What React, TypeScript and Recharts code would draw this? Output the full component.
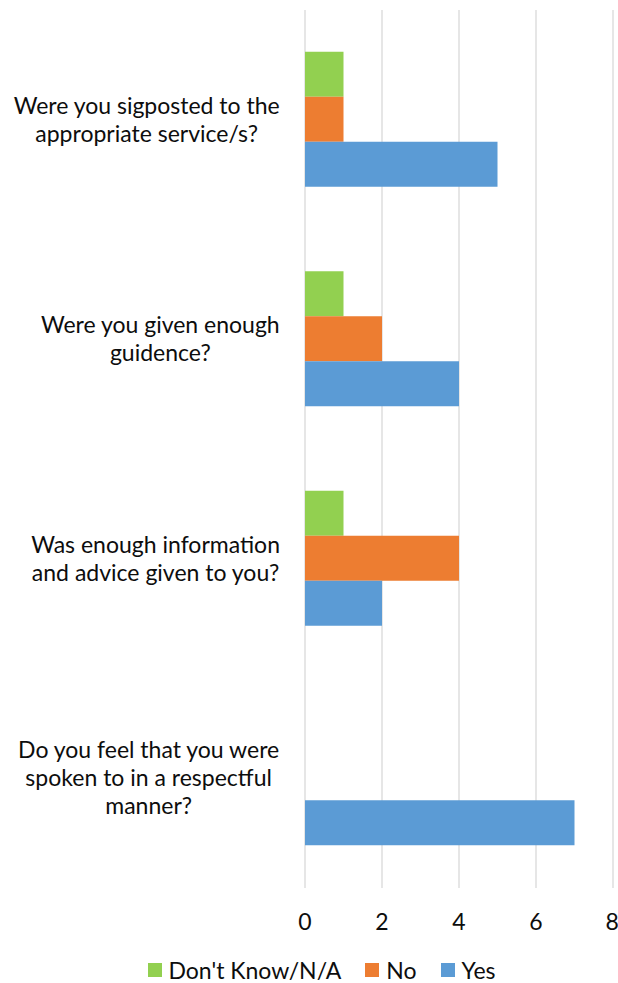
import React from "react";
import { BarChart, Bar, XAxis, YAxis, CartesianGrid, Legend } from "recharts";

const categoryLines: string[][] = [
  ["Were you sigposted to the", "appropriate service/s?"],
  ["Were you given enough", "guidence?"],
  ["Was enough information", "and advice given to you?"],
  ["Do you feel that you were", "spoken to in a respectful", "manner?"],
];
const categories = categoryLines.map((l) => l.join(" "));
const dontKnow = [1, 1, 1, 0];
const no = [1, 2, 4, 0];
const yes = [5, 4, 2, 7];
const xTicks = [0, 2, 4, 6, 8];

const seriesKeys = ["dontKnow", "no", "yes"];
const seriesNames = ["Don't Know/N/A", "No", "Yes"];
const seriesColors = ["#92D050", "#ED7D31", "#5B9BD5"];

const data = categories.map((c, i) => ({
  name: c,
  dontKnow: dontKnow[i],
  no: no[i],
  yes: yes[i],
}));

const FONT = "Lato, 'Open Sans', sans-serif";
const FS = 23;
const TEXT = "#0d0d0d";

let ctx: CanvasRenderingContext2D | null = null;
function measure(s: string): number {
  if (!ctx) {
    const c = document.createElement("canvas");
    ctx = c.getContext("2d");
  }
  if (!ctx) return s.length * FS * 0.5;
  ctx.font = `${FS}px Lato`;
  return ctx.measureText(s).width;
}

const CategoryTick = (props: any) => {
  const { x, y, payload } = props;
  const idx = categories.indexOf(payload.value);
  const lines = idx >= 0 ? categoryLines[idx] : [String(payload.value)];
  const w = Math.max(...lines.map(measure));
  const cx = x - w / 2;
  const lh = 28;
  const y0 = y - ((lines.length - 1) * lh) / 2;
  return (
    <text
      x={cx}
      y={y0}
      textAnchor="middle"
      fontFamily={FONT}
      fontSize={FS}
      fill={TEXT}
    >
      {lines.map((l, i) => (
        <tspan key={i} x={cx} y={y0 + i * lh} dy="0.35em">
          {l}
        </tspan>
      ))}
    </text>
  );
};

const LegendContent = () => (
  <div
    style={{
      height: 45,
      boxSizing: "border-box",
      paddingTop: 19,
      paddingLeft: 30,
      display: "flex",
      justifyContent: "center",
      alignItems: "center",
      fontFamily: FONT,
      fontSize: FS,
      color: TEXT,
    }}
  >
    {seriesNames.map((n, i) => (
      <div
        key={n}
        style={{
          display: "flex",
          alignItems: "center",
          marginLeft: i === 0 ? 0 : 24,
        }}
      >
        <span
          style={{
            width: 14,
            height: 14,
            background: seriesColors[i],
            display: "inline-block",
            marginRight: 7,
          }}
        />
        <span>{n}</span>
      </div>
    ))}
  </div>
);

export default function App() {
  return (
    <div style={{ position: "absolute", left: 0, top: 0 }}>
      <BarChart
        width={618}
        height={983}
        data={data}
        layout="vertical"
        margin={{ top: 10, right: 5, bottom: 0, left: 0 }}
        barCategoryGap="19%"
        barGap={0}
      >
        <CartesianGrid horizontal={false} stroke="#D9D9D9" strokeWidth={1.3} />
        <XAxis
          type="number"
          domain={[0, 8]}
          ticks={xTicks}
          axisLine={false}
          tickLine={false}
          tickSize={0}
          tickMargin={26}
          height={50}
          tick={{ fontFamily: FONT, fontSize: FS, fill: TEXT }}
        />
        <YAxis
          type="category"
          dataKey="name"
          width={305}
          axisLine={false}
          tickLine={false}
          tickSize={0}
          tickMargin={25}
          tick={<CategoryTick />}
        />
        <Legend verticalAlign="bottom" content={<LegendContent />} />
        {seriesKeys.map((k, i) => (
          <Bar
            key={k}
            dataKey={k}
            name={seriesNames[i]}
            fill={seriesColors[i]}
            isAnimationActive={false}
          />
        ))}
      </BarChart>
    </div>
  );
}
